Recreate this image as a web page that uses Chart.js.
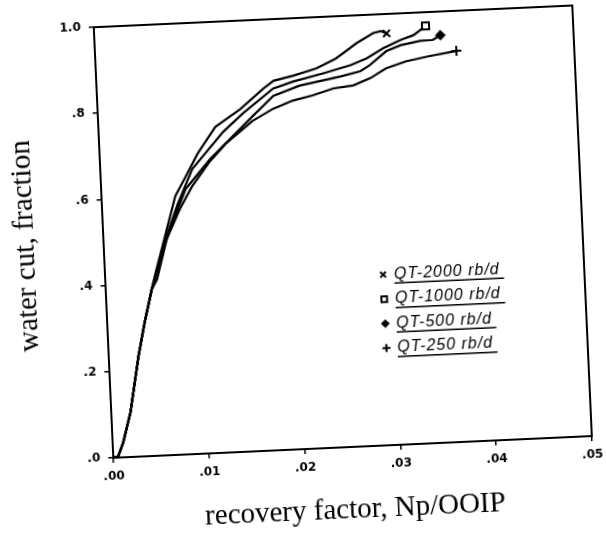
<!DOCTYPE html>
<html>
<head>
<meta charset="utf-8">
<script src="https://cdn.jsdelivr.net/npm/chart.js@4.4.1/dist/chart.umd.min.js"></script>
<style>
  html, body { margin: 0; padding: 0; background: #fff; overflow: hidden; }
  #wrap { width: 606px; height: 540px; transform: rotate(-2.6deg); transform-origin: 303px 270px; }
</style>
</head>
<body>
<div id="wrap"><canvas id="c" width="606" height="540"></canvas></div>
<script>
// ---- data ----
const seriesLabels = ['QT-2000 rb/d', 'QT-1000 rb/d', 'QT-500 rb/d', 'QT-250 rb/d'];
const seriesStyles = ['crossRot', 'rect', 'rectRot', 'cross'];

const rf2000 = [0, 0.0005, 0.0011, 0.0020, 0.0031, 0.0039, 0.0048, 0.0054, 0.0064, 0.0077, 0.0089, 0.0102, 0.0122, 0.0149, 0.0174, 0.0185, 0.0206, 0.0230, 0.0251, 0.0273, 0.0291, 0.0299, 0.0305];
const wc2000 = [0, 0.002, 0.034, 0.103, 0.232, 0.310, 0.386, 0.432, 0.505, 0.600, 0.645, 0.695, 0.756, 0.795, 0.840, 0.857, 0.867, 0.881, 0.902, 0.935, 0.957, 0.961, 0.955];

const rf1000 = [0, 0.0005, 0.0011, 0.0020, 0.0031, 0.0039, 0.0048, 0.0054, 0.0061, 0.0079, 0.0096, 0.0130, 0.0151, 0.0184, 0.0205, 0.0237, 0.0266, 0.0283, 0.0301, 0.0319, 0.0333, 0.0346];
const wc1000 = [0, 0.002, 0.034, 0.103, 0.232, 0.310, 0.386, 0.430, 0.478, 0.581, 0.661, 0.744, 0.784, 0.839, 0.853, 0.869, 0.885, 0.899, 0.921, 0.938, 0.948, 0.968];

const rf500 = [0, 0.0005, 0.0011, 0.0020, 0.0031, 0.0039, 0.0048, 0.0054, 0.0060, 0.0072, 0.0088, 0.0115, 0.0162, 0.0184, 0.0212, 0.0255, 0.0276, 0.0286, 0.0304, 0.0319, 0.0340, 0.0353, 0.0361];
const wc500 = [0, 0.002, 0.034, 0.103, 0.232, 0.310, 0.386, 0.425, 0.466, 0.535, 0.615, 0.682, 0.778, 0.822, 0.843, 0.860, 0.870, 0.883, 0.914, 0.926, 0.934, 0.935, 0.945];

const rf250 = [0, 0.0005, 0.0011, 0.0020, 0.0031, 0.0039, 0.0048, 0.0054, 0.0066, 0.0081, 0.0095, 0.0114, 0.0132, 0.0161, 0.0183, 0.0204, 0.0225, 0.0247, 0.0268, 0.0286, 0.0303, 0.0324, 0.0349, 0.0377];
const wc250 = [0, 0.002, 0.034, 0.103, 0.232, 0.310, 0.386, 0.409, 0.501, 0.569, 0.621, 0.675, 0.716, 0.766, 0.792, 0.809, 0.819, 0.833, 0.838, 0.853, 0.874, 0.888, 0.898, 0.907];

const xTickLabels = ['.00', '.01', '.02', '.03', '.04', '.05'];
const yTickLabels = ['.0', '.2', '.4', '.6', '.8', '1.0'];
const xTitle = 'recovery factor, Np/OOIP';
const yTitle = 'water cut, fraction';

// ---- build ----
const xs = [rf2000, rf1000, rf500, rf250];
const ys = [wc2000, wc1000, wc500, wc250];

const datasets = seriesLabels.map((lab, i) => ({
  label: lab,
  data: xs[i].map((x, k) => ({ x: x, y: ys[i][k] })),
  borderColor: '#000',
  backgroundColor: i === 1 ? '#fff' : '#000',
  borderWidth: 2.2,
  pointStyle: seriesStyles[i],
  pointRadius: (ctx) => ctx.dataIndex === xs[i].length - 1 ? (i === 2 ? 4 : 5) : 0,
  pointBorderWidth: 2,
  pointBorderColor: '#000',
  pointBackgroundColor: i === 1 ? '#fff' : '#000',
  tension: 0,
  fill: false
}));

const framePlugin = {
  id: 'frame',
  afterDraw(chart) {
    const { ctx, chartArea: a } = chart;
    ctx.save();
    ctx.strokeStyle = '#000';
    ctx.lineWidth = 2;
    ctx.strokeRect(a.left, a.top, a.right - a.left, a.bottom - a.top);
    ctx.restore();
  }
};

const legendPlugin = {
  id: 'insideLegend',
  afterDraw(chart) {
    const { ctx, chartArea: a } = chart;
    const x0 = a.left + (a.right - a.left) * 0.58;
    const y0 = a.top + (a.bottom - a.top) * 0.604;
    const gap = 24.5;
    ctx.save();
    ctx.font = 'italic 16px "Liberation Sans"';
    try { ctx.letterSpacing = '1px'; } catch (e) {}
    ctx.textBaseline = 'middle';
    ctx.fillStyle = '#000';
    chart.data.datasets.forEach((ds, i) => {
      const y = y0 + i * gap;
      ctx.lineWidth = 2;
      ctx.strokeStyle = '#000';
      ctx.fillStyle = ds.pointBackgroundColor;
      Chart.helpers.drawPoint(ctx, { pointStyle: ds.pointStyle, radius: i === 2 ? 3 : 4, rotation: 0, borderWidth: 2 }, x0, y);
      if (i !== 1) { ctx.fill(); }
      ctx.fillStyle = '#000';
      const tx = x0 + 11;
      ctx.fillText(ds.label, tx, y);
      const w = ctx.measureText(ds.label).width;
      ctx.lineWidth = 1.6;
      ctx.beginPath();
      ctx.moveTo(tx, y + 9);
      ctx.lineTo(tx + w + 4, y + 9);
      ctx.stroke();
    });
    ctx.restore();
  }
};

new Chart(document.getElementById('c'), {
  type: 'line',
  data: { datasets },
  plugins: [framePlugin, legendPlugin],
  options: {
    responsive: false,
    animation: false,
    devicePixelRatio: 1,
    layout: { padding: { left: 6, right: 22, top: 18, bottom: 8 } },
    plugins: { legend: { display: false }, tooltip: { enabled: false } },
    scales: {
      x: {
        type: 'linear', min: 0, max: 0.05,
        afterFit: (s) => { s.height = 83; },
        ticks: {
          stepSize: 0.01,
          color: '#000',
          padding: 7,
          font: { family: '"DejaVu Sans"', size: 12, weight: 'bold' },
          callback: (v, idx) => xTickLabels[idx]
        },
        grid: { drawOnChartArea: false, drawTicks: true, tickLength: 5, color: '#000', lineWidth: 1.5 },
        border: { display: true, color: '#000', width: 2 },
        title: { display: true, text: xTitle, color: '#000', font: { family: '"Liberation Serif"', size: 29 }, padding: { top: 4, bottom: 2 } }
      },
      y: {
        type: 'linear', min: 0, max: 1,
        afterFit: (s) => { s.width = 99; },
        ticks: {
          stepSize: 0.2,
          color: '#000',
          padding: 8,
          font: { family: '"DejaVu Sans"', size: 12, weight: 'bold' },
          callback: (v, idx) => yTickLabels[idx]
        },
        grid: { drawOnChartArea: false, drawTicks: true, tickLength: 5, color: '#000', lineWidth: 1.5 },
        border: { display: true, color: '#000', width: 2 },
        title: { display: true, text: yTitle, color: '#000', font: { family: '"Liberation Serif"', size: 29 }, padding: { top: 4, bottom: 4 } }
      }
    }
  }
});
</script>
</body>
</html>
